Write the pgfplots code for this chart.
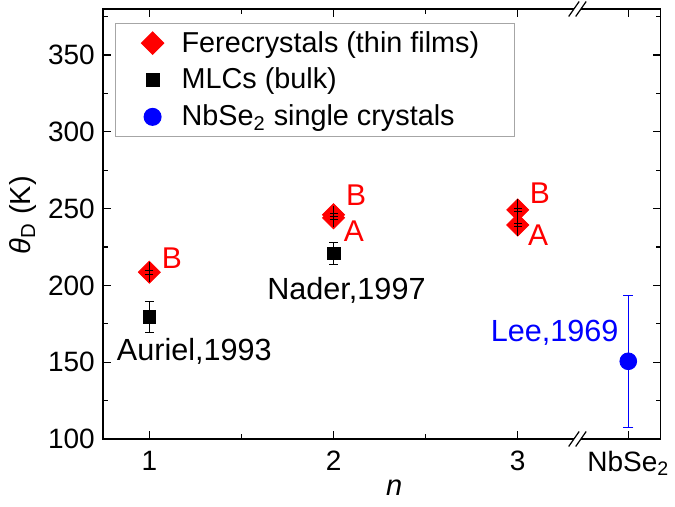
\documentclass[border=0pt]{standalone}
\usepackage{pgfplots}
\pgfplotsset{compat=1.18}
\usepackage{fontspec}
\setmainfont{Liberation Sans}
\definecolor{fred}{RGB}{255,0,0}
\definecolor{fblue}{RGB}{0,0,255}
\begin{document}
\begin{tikzpicture}
\begin{axis}[
  scale only axis, width=278.6pt, height=215pt,
  xmin=0.75, xmax=3.775, ymin=100, ymax=380,
  xtick={1,2,3,3.6}, xticklabels={1,2,3,NbSe\textsubscript{2}},
  minor xtick={1.5,2.5},
  ytick={100,150,200,250,300,350}, minor ytick={125,175,225,275,325,375},
  tick align=inside,
  major tick length=4pt, minor tick length=2.5pt,
  every tick/.style={black, line width=0.6pt},
  axis line style={line width=0.8pt},
  tick label style={font=\fontsize{14}{16}\selectfont},
  /pgf/number format/assume math mode=true,
  xticklabel style={yshift=-2.5pt},
  yticklabel style={xshift=-0.7pt},
  xlabel={\textit{n}}, ylabel={\textit{θ}\textsubscript{D} (K)},
  label style={font=\fontsize{14.5}{16}\selectfont},
  xlabel style={at={(axis description cs:0.522,-0.114)}, anchor=center},
  ylabel style={at={(axis description cs:-0.1436,0.52)}, anchor=center},
  legend style={at={(0,1)}, anchor=north west, xshift=5.85pt, yshift=-6.8pt,
    draw=gray!70, line width=0.6pt, font=\fontsize{14.4}{16}\selectfont, row sep=2.5pt},
  legend cell align=left,
  legend image code/.code={\draw[mark repeat=2, mark phase=2, #1, draw=none] plot coordinates {(0pt,0pt) (15.5pt,0pt) (28pt,0pt)};},
]
% Ferecrystals
\addplot[draw=none, mark=square*, mark size=3.9pt, mark options={rotate=45, fill=fred, draw=fred}]
  coordinates {(1,208.6) (2,244) (2,246) (3,239.4) (3,249.2)};
\addlegendentry{\makebox[161.5pt][l]{Ferecrystals (thin films)}}
% MLCs
\addplot[draw=none, mark=square*, mark size=3.2pt, mark options={fill=black, draw=black},
  error bars/.cd, y dir=both, y explicit,
  error bar style={draw=black, line width=0.6pt},
  error mark options={rotate=90, draw=black, mark size=2.2pt, line width=0.6pt}]
  coordinates {(1,179.4) +- (0,10) (2,220.8) +- (0,7)};
\addlegendentry{MLCs (bulk)}
% NbSe2
\addplot[draw=none, mark=*, mark size=4.2pt, mark options={fill=fblue, draw=fblue},
  error bars/.cd, y dir=both, y explicit,
  error bar style={draw=fblue, line width=0.7pt},
  error mark options={rotate=90, draw=fblue, mark size=2.6pt, line width=0.7pt}]
  coordinates {(3.6,150.6) +- (0,43)};
\addlegendentry{NbSe\textsubscript{2} single crystals}
% error bars of ferecrystals (black, drawn as marks so that they lie over the diamonds)
\addplot[forget plot, only marks, black, mark=|, mark size=5pt, mark options={line width=0.5pt}] coordinates {(1,208.6)};
\addplot[forget plot, only marks, black, mark=|, mark size=5.4pt, mark options={line width=0.5pt}] coordinates {(2,245)};
\addplot[forget plot, only marks, black, mark=|, mark size=9.2pt, mark options={line width=0.5pt}] coordinates {(3,244.3)};
\addplot[forget plot, only marks, mark=-, mark size=2pt, black, mark options={line width=0.45pt}]
  coordinates {(1,207.4) (1,209.8) (2,243) (2,245) (2,247) (3,238.2) (3,240.6) (3,248) (3,250.4)};
% annotations
\node[text=fred, font=\fontsize{15}{16}\selectfont] at (axis cs:1.123,218) {B};
\node[text=fred, font=\fontsize{15}{16}\selectfont] at (axis cs:2.122,259) {B};
\node[text=fred, font=\fontsize{15}{16}\selectfont] at (axis cs:2.11,235) {A};
\node[text=fred, font=\fontsize{15}{16}\selectfont] at (axis cs:3.12,260) {B};
\node[text=fred, font=\fontsize{15}{16}\selectfont] at (axis cs:3.11,232.5) {A};
\node[font=\fontsize{15.3}{16}\selectfont] at (axis cs:1.244,157) {Auriel,1993};
\node[font=\fontsize{15.3}{16}\selectfont] at (axis cs:2.07,197) {Nader,1997};
\node[text=fblue, font=\fontsize{15.3}{16}\selectfont] at (axis cs:3.2,169) {Lee,1969};
\coordinate (bb) at (axis cs:3.324,100);
\coordinate (bt) at (axis cs:3.324,380);
\end{axis}
% axis breaks
\foreach \p in {bb,bt}{
  \begin{scope}[shift={(\p)}]
    \fill[white] (-4.375pt,-3.75pt) -- (0.875pt,3.75pt) -- (4.375pt,3.75pt) -- (-0.875pt,-3.75pt) -- cycle;
    \draw[black, line width=0.6pt] (-4.375pt,-3.75pt) -- (0.875pt,3.75pt);
    \draw[black, line width=0.6pt] (-0.875pt,-3.75pt) -- (4.375pt,3.75pt);
  \end{scope}
}
\pgfresetboundingbox
\useasboundingbox ([xshift=-51.65pt,yshift=-34pt]current axis.south west) rectangle ([xshift=7.25pt,yshift=4.5pt]current axis.north east);
\end{tikzpicture}
\end{document}
